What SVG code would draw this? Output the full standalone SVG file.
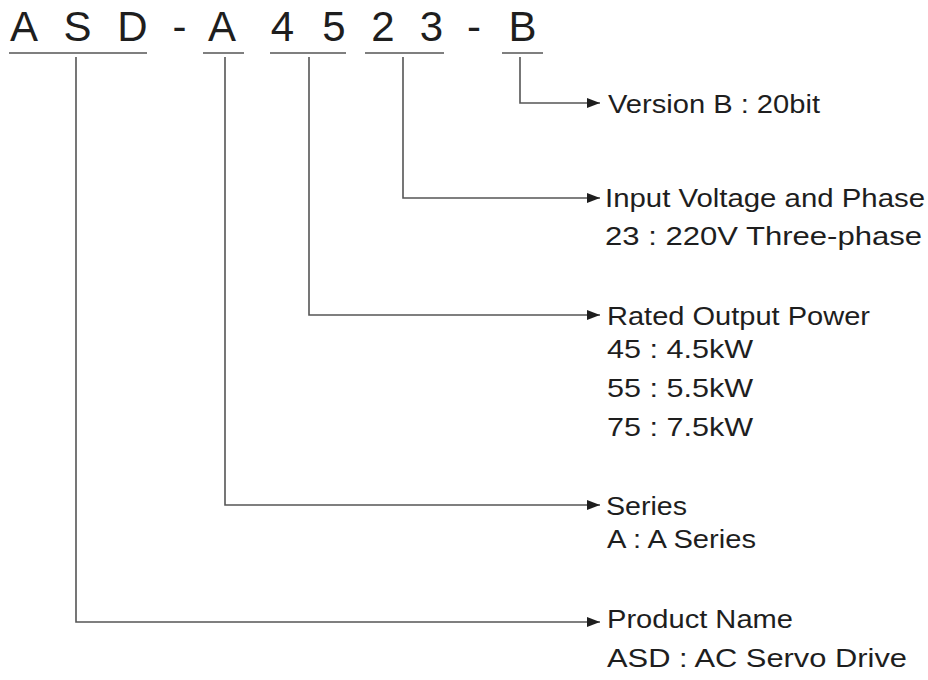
<svg xmlns="http://www.w3.org/2000/svg" width="928" height="680" viewBox="0 0 928 680">
<style>
.code{font-family:"Liberation Sans",Arial,sans-serif;font-size:42px;fill:#1e1e1e;text-anchor:middle}
.lbl{font-family:"Liberation Sans",Arial,sans-serif;font-size:25.5px;fill:#1e1e1e}
.ln{stroke:#555;stroke-width:1.6;fill:none}
</style>
<defs>
<marker id="ah" viewBox="0 0 13 10" refX="13" refY="5" markerWidth="13" markerHeight="10" markerUnits="userSpaceOnUse" orient="auto">
<path d="M0,0 L13,5 L0,10 Z" fill="#1e1e1e"/>
</marker>
</defs>
<g id="code">
<text class="code" x="24" y="41">A</text>
<text class="code" x="77.5" y="41">S</text>
<text class="code" x="132.5" y="41">D</text>
<text class="code" x="179.5" y="41">-</text>
<text class="code" x="222" y="41">A</text>
<text class="code" x="282.5" y="41">4</text>
<text class="code" x="334" y="41">5</text>
<text class="code" x="383" y="41">2</text>
<text class="code" x="431.5" y="41">3</text>
<text class="code" x="474" y="41">-</text>
<text class="code" x="522.5" y="41">B</text>
<line class="ln" x1="9" y1="53" x2="147" y2="53"/>
<line class="ln" x1="203" y1="53" x2="244" y2="53"/>
<line class="ln" x1="270" y1="53" x2="346" y2="53"/>
<line class="ln" x1="365" y1="53" x2="444" y2="53"/>
<line class="ln" x1="502" y1="53" x2="543" y2="53"/>
</g>
<g id="connectors">
<path class="ln" d="M520,57 V103 H600" marker-end="url(#ah)"/>
<path class="ln" d="M403,57 V198 H600" marker-end="url(#ah)"/>
<path class="ln" d="M309,57 V315 H600" marker-end="url(#ah)"/>
<path class="ln" d="M225,57 V505 H600" marker-end="url(#ah)"/>
<path class="ln" d="M76,57 V622 H600" marker-end="url(#ah)"/>
</g>
<g id="version">
<text class="lbl" x="608" y="113" textLength="212" lengthAdjust="spacingAndGlyphs">Version B : 20bit</text>
</g>
<g id="voltage">
<text class="lbl" x="605" y="207" textLength="320" lengthAdjust="spacingAndGlyphs">Input Voltage and Phase</text>
<text class="lbl" x="605" y="245" textLength="317" lengthAdjust="spacingAndGlyphs">23 : 220V Three-phase</text>
</g>
<g id="power">
<text class="lbl" x="607" y="325" textLength="263" lengthAdjust="spacingAndGlyphs">Rated Output Power</text>
<text class="lbl" x="607" y="358" textLength="146" lengthAdjust="spacingAndGlyphs">45 : 4.5kW</text>
<text class="lbl" x="607" y="397" textLength="146" lengthAdjust="spacingAndGlyphs">55 : 5.5kW</text>
<text class="lbl" x="607" y="436" textLength="146" lengthAdjust="spacingAndGlyphs">75 : 7.5kW</text>
</g>
<g id="series">
<text class="lbl" x="606" y="515" textLength="81" lengthAdjust="spacingAndGlyphs">Series</text>
<text class="lbl" x="607" y="548" textLength="149" lengthAdjust="spacingAndGlyphs">A : A Series</text>
</g>
<g id="product">
<text class="lbl" x="607" y="628" textLength="186" lengthAdjust="spacingAndGlyphs">Product Name</text>
<text class="lbl" x="607" y="667" textLength="300" lengthAdjust="spacingAndGlyphs">ASD : AC Servo Drive</text>
</g>
</svg>
